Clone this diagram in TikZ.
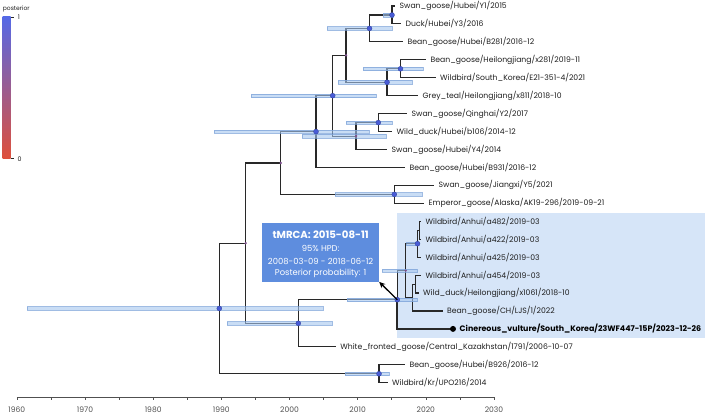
\documentclass[tikz,border=0pt]{standalone}
\usepackage{fontspec}
\setmainfont{Poppins}
\usetikzlibrary{arrows.meta}
\definecolor{branch}{RGB}{40,40,40}
\definecolor{hpdfill}{RGB}{165,198,238}
\definecolor{hpdedge}{RGB}{120,160,215}
\definecolor{cladebg}{RGB}{214,229,248}
\definecolor{nodeblue}{RGB}{72,92,215}
\definecolor{nodepurple}{RGB}{125,80,140}
\definecolor{boxblue}{RGB}{94,141,222}
\definecolor{legtop}{RGB}{85,105,230}
\definecolor{legbot}{RGB}{222,80,60}
\definecolor{axisgrey}{RGB}{80,80,80}
\definecolor{txt}{RGB}{30,30,30}
\newcommand\hpdbar[3]{\draw[hpd] (#1,#3-1.8) rectangle (#2,#3+1.8);}
\begin{document}
\begin{tikzpicture}[x=1pt,y=-1pt,
  br/.style={draw=branch,line width=1.1pt},
  hpd/.style={fill=hpdfill,fill opacity=0.6,draw=hpdedge,draw opacity=0.7,line width=0.4pt},
  pdot/.style={circle,fill=nodeblue,draw=nodeblue!70!black,line width=0.3pt,inner sep=0,minimum size=5pt},
  ldot/.style={circle,fill=nodepurple,inner sep=0,minimum size=2.6pt},
  tiplab/.style={anchor=west,inner sep=0,xshift=4.5pt,font=\fontsize{7.7}{9}\selectfont,text=txt},
  boxtxt/.style={inner sep=0,text=white,font=\fontsize{8.4}{10}\selectfont},
  axlab/.style={inner sep=0,text=axisgrey,font=\fontsize{7.6}{9}\selectfont},
]
\useasboundingbox (0,0) rectangle (708,418);
% clade highlight
\fill[cladebg] (397,213.3) rectangle (705,338.3);
% tips
\coordinate (t1) at (395,6);
\coordinate (t2) at (401,23.9);
\coordinate (t3) at (403,41.9);
\coordinate (t4) at (426,59.8);
\coordinate (t5) at (435.5,77.8);
\coordinate (t6) at (418,95.7);
\coordinate (t7) at (407,113.6);
\coordinate (t8) at (392,131.6);
\coordinate (t9) at (387,149.5);
\coordinate (t10) at (405,167.5);
\coordinate (t11) at (434,185.4);
\coordinate (t12) at (424,203.3);
\coordinate (t13) at (421,221.3);
\coordinate (t14) at (421,239.2);
\coordinate (t15) at (421,257.2);
\coordinate (t16) at (421,275.1);
\coordinate (t17) at (418.5,293);
\coordinate (t18) at (442.5,311);
\coordinate (t19) at (453,328.9);
\coordinate (t20) at (335.7,346.9);
\coordinate (t21) at (405,364.8);
\coordinate (t22) at (387.5,382.7);
% internal nodes
\coordinate (A) at (392,14.95);
\coordinate (B) at (369.5,28.4);
\coordinate (C) at (346,55.3);
\coordinate (D) at (387,82.25);
\coordinate (E) at (400.5,68.8);
\coordinate (F) at (332.7,95.7);
\coordinate (G) at (378.3,122.6);
\coordinate (H) at (356,136.05);
\coordinate (I) at (316,131.6);
\coordinate (J) at (280.7,163);
\coordinate (K) at (394.3,194.35);
\coordinate (L) at (245.7,243.15);
\coordinate (N) at (298.3,323.3);
\coordinate (O) at (397.3,299.75);
\coordinate (S) at (405.7,270.6);
\coordinate (Q) at (417.5,243.7);
\coordinate (R) at (419.5,230.25);
\coordinate (T) at (412.5,297.5);
\coordinate (U) at (415.5,284.05);
\coordinate (V) at (219.3,308.45);
\coordinate (W) at (379,373.75);
% branches
\draw[br] (A) |- (t1); \draw[br] (A) |- (t2);
\draw[br] (B) |- (A); \draw[br] (B) |- (t3);
\draw[br] (E) |- (t4); \draw[br] (E) |- (t5);
\draw[br] (D) |- (E); \draw[br] (D) |- (t6);
\draw[br] (C) |- (B); \draw[br] (C) |- (D);
\draw[br] (G) |- (t7); \draw[br] (G) |- (t8);
\draw[br] (H) |- (G); \draw[br] (H) |- (t9);
\draw[br] (F) |- (C); \draw[br] (F) |- (H);
\draw[br] (I) |- (F); \draw[br] (I) |- (t10);
\draw[br] (K) |- (t11); \draw[br] (K) |- (t12);
\draw[br] (J) |- (I); \draw[br] (J) |- (K);
\draw[br] (R) |- (t13); \draw[br] (R) |- (t14);
\draw[br] (Q) |- (R); \draw[br] (Q) |- (t15);
\draw[br] (U) |- (t16); \draw[br] (U) |- (t17);
\draw[br] (T) |- (U); \draw[br] (T) |- (t18);
\draw[br] (S) |- (Q); \draw[br] (S) |- (T);
\draw[br] (O) |- (S); \draw[br,line width=1.7pt] (O) |- (t19);
\draw[br] (N) |- (O); \draw[br] (N) |- (t20);
\draw[br] (L) |- (J); \draw[br] (L) |- (N);
\draw[br] (W) |- (t21); \draw[br] (W) |- (t22);
\draw[br] (V) |- (L); \draw[br] (V) |- (W);
% HPD bars
\hpdbar{383}{393}{14.95}
\hpdbar{327}{392}{28.4}
\hpdbar{362.7}{422.7}{68.8}
\hpdbar{338.3}{412.3}{82.25}
\hpdbar{250.7}{376}{95.7}
\hpdbar{345.7}{391.7}{122.6}
\hpdbar{301.7}{385.7}{136.05}
\hpdbar{214.3}{369.3}{131.6}
\hpdbar{335}{421.7}{194.35}
\hpdbar{406.5}{418.5}{243.7}
\hpdbar{382}{417}{270.6}
\hpdbar{346.7}{416.7}{299.75}
\hpdbar{227.3}{332.3}{323.3}
\hpdbar{345}{389}{373.75}
\hpdbar{26.7}{322.7}{308.45}
% node dots
\foreach \n in {A,B,E,D,F,G,I,K,Q,O,N,W,V} \node[pdot] (d\n) at (\n) {};
\foreach \n in {C,H,J,L,S} \node[ldot] (d\n) at (\n) {};
\node[circle,fill=black,inner sep=0,minimum size=6pt] (d19) at (t19) {};
% tip labels
\node[tiplab] (l1) at (t1) {Swan\_goose/Hubei/Y1/2015};
\node[tiplab] (l2) at (t2) {Duck/Hubei/Y3/2016};
\node[tiplab] (l3) at (t3) {Bean\_goose/Hubei/B281/2016-12};
\node[tiplab] (l4) at (t4) {Bean\_goose/Heilongjiang/x281/2019-11};
\node[tiplab] (l5) at (t5) {Wildbird/South\_Korea/E21-351-4/2021};
\node[tiplab] (l6) at (t6) {Grey\_teal/Heilongjiang/x811/2018-10};
\node[tiplab] (l7) at (t7) {Swan\_goose/Qinghai/Y2/2017};
\node[tiplab] (l8) at (t8) {Wild\_duck/Hubei/b106/2014-12};
\node[tiplab] (l9) at (t9) {Swan\_goose/Hubei/Y4/2014};
\node[tiplab] (l10) at (t10) {Bean\_goose/Hubei/B931/2016-12};
\node[tiplab] (l11) at (t11) {Swan\_goose/Jiangxi/Y5/2021};
\node[tiplab] (l12) at (t12) {Emperor\_goose/Alaska/AK19-296/2019-09-21};
\node[tiplab] (l13) at (t13) {Wildbird/Anhui/a482/2019-03};
\node[tiplab] (l14) at (t14) {Wildbird/Anhui/a422/2019-03};
\node[tiplab] (l15) at (t15) {Wildbird/Anhui/a425/2019-03};
\node[tiplab] (l16) at (t16) {Wildbird/Anhui/a454/2019-03};
\node[tiplab] (l17) at (t17) {Wild\_duck/Heilongjiang/x1061/2018-10};
\node[tiplab] (l18) at (t18) {Bean\_goose/CH/LJS/1/2022};
\node[tiplab,xshift=2pt,font=\bfseries\fontsize{7.9}{9}\selectfont,text=black] (l19) at (t19) {Cinereous\_vulture/South\_Korea/23WF447-15P/2023-12-26};
\node[tiplab] (l20) at (t20) {White\_fronted\_goose/Central\_Kazakhstan/1791/2006-10-07};
\node[tiplab] (l21) at (t21) {Bean\_goose/Hubei/B926/2016-12};
\node[tiplab] (l22) at (t22) {Wildbird/Kr/UPO216/2014};
% tMRCA box
\node[fill=boxblue,inner sep=0,minimum width=116.7pt,minimum height=59pt] (tm) at (320.65,252.2) {};
\node[boxtxt,font=\bfseries\fontsize{10.2}{12}\selectfont] (tm1) at (320.65,234.3) {tMRCA: 2015-08-11};
\node[boxtxt] (tm2) at (320.65,248.3) {95\% HPD:};
\node[boxtxt] (tm3) at (320.65,261) {2008-03-09 - 2018-06-12};
\node[boxtxt] (tm4) at (320.65,273.7) {Posterior probability: 1};
\draw[-{Stealth[length=6pt,width=5.5pt]},line width=1.3pt,black] (O) -- (tm.south east);
% legend
\node[anchor=west,inner sep=0,text=txt,font=\fontsize{6}{7}\selectfont] (legt) at (2.7,9.3) {posterior};
\shade[top color=legtop,bottom color=legbot] (2.7,16.7) rectangle (10.7,158.3);
\draw[branch,line width=0.6pt] (10.7,16.9) -- (13.8,16.9);
\draw[branch,line width=0.6pt] (10.7,158.1) -- (13.8,158.1);
\node[inner sep=0,text=txt,font=\fontsize{6.3}{7}\selectfont] (leg1) at (19,17.3) {1};
\node[inner sep=0,text=txt,font=\fontsize{6.3}{7}\selectfont] (leg0) at (19.5,159.3) {0};
% axis
\draw[axisgrey,line width=0.5pt] (16.86,397) -- (494,397);
\foreach \yr in {1960,1965,...,2030} \draw[axisgrey,line width=0.5pt] ({289.5+(\yr-2000)*6.816},397) -- ++(0,3);
\foreach \yr in {1960,1970,...,2030} \node[axlab] (ax\yr) at ({289.5+(\yr-2000)*6.816},410) {\yr};
\end{tikzpicture}
\end{document}
